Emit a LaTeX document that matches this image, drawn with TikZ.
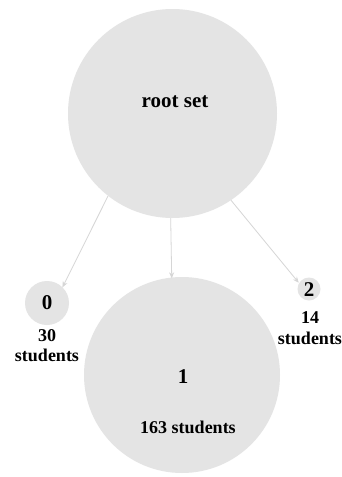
\documentclass[tikz,border=0pt]{standalone}
\usepackage{fontspec}
\setmainfont{Liberation Serif}
\usetikzlibrary{arrows.meta}
\definecolor{circfill}{HTML}{E4E4E4}
\definecolor{edgecol}{HTML}{D6D6D6}
\tikzset{
  setcirc/.style={circle, fill=circfill, draw=none, inner sep=0pt, minimum size=#1},
  lbl/.style={font=\bfseries\fontsize{18}{20}\selectfont, inner sep=0pt, align=center},
  biglbl/.style={font=\bfseries\fontsize{21}{23}\selectfont, inner sep=0pt},
  edge/.style={draw=edgecol, line width=0.8pt, -{Stealth[length=6pt,width=5pt]}}
}
\begin{document}
\begin{tikzpicture}[x=1pt,y=-1pt]
\useasboundingbox[fill=white] (0,0) rectangle (342,477);
\node[setcirc=209pt] (root) at (172.5,113.5) {};
\node[setcirc=44pt] (n0) at (47,303) {};
\node[setcirc=196pt] (n1) at (182,375) {};
\node[setcirc=23pt] (n2) at (309,289) {};
\node[biglbl] (troot) at (175,102) {root set};
\node[biglbl] (t0) at (47,303) {0};
\node[lbl] (t0a) at (47,336) {30};
\node[lbl] (t0b) at (47,355) {students};
\node[biglbl] (t1) at (183,377) {1};
\node[lbl] (t1a) at (188,427) {163 students};
\node[biglbl] (t2) at (309,290) {2};
\node[lbl] (t2a) at (310,318) {14};
\node[lbl] (t2b) at (310,338) {students};
\draw[edge] (root.232) -- ([shift={(5pt,-4pt)}]n0.62);
\draw[edge] (root.269) -- ([yshift=-1pt]n1.96);
\draw[edge] (root.304) -- ([shift={(-2pt,-2pt)}]n2.135);
\end{tikzpicture}
\end{document}
